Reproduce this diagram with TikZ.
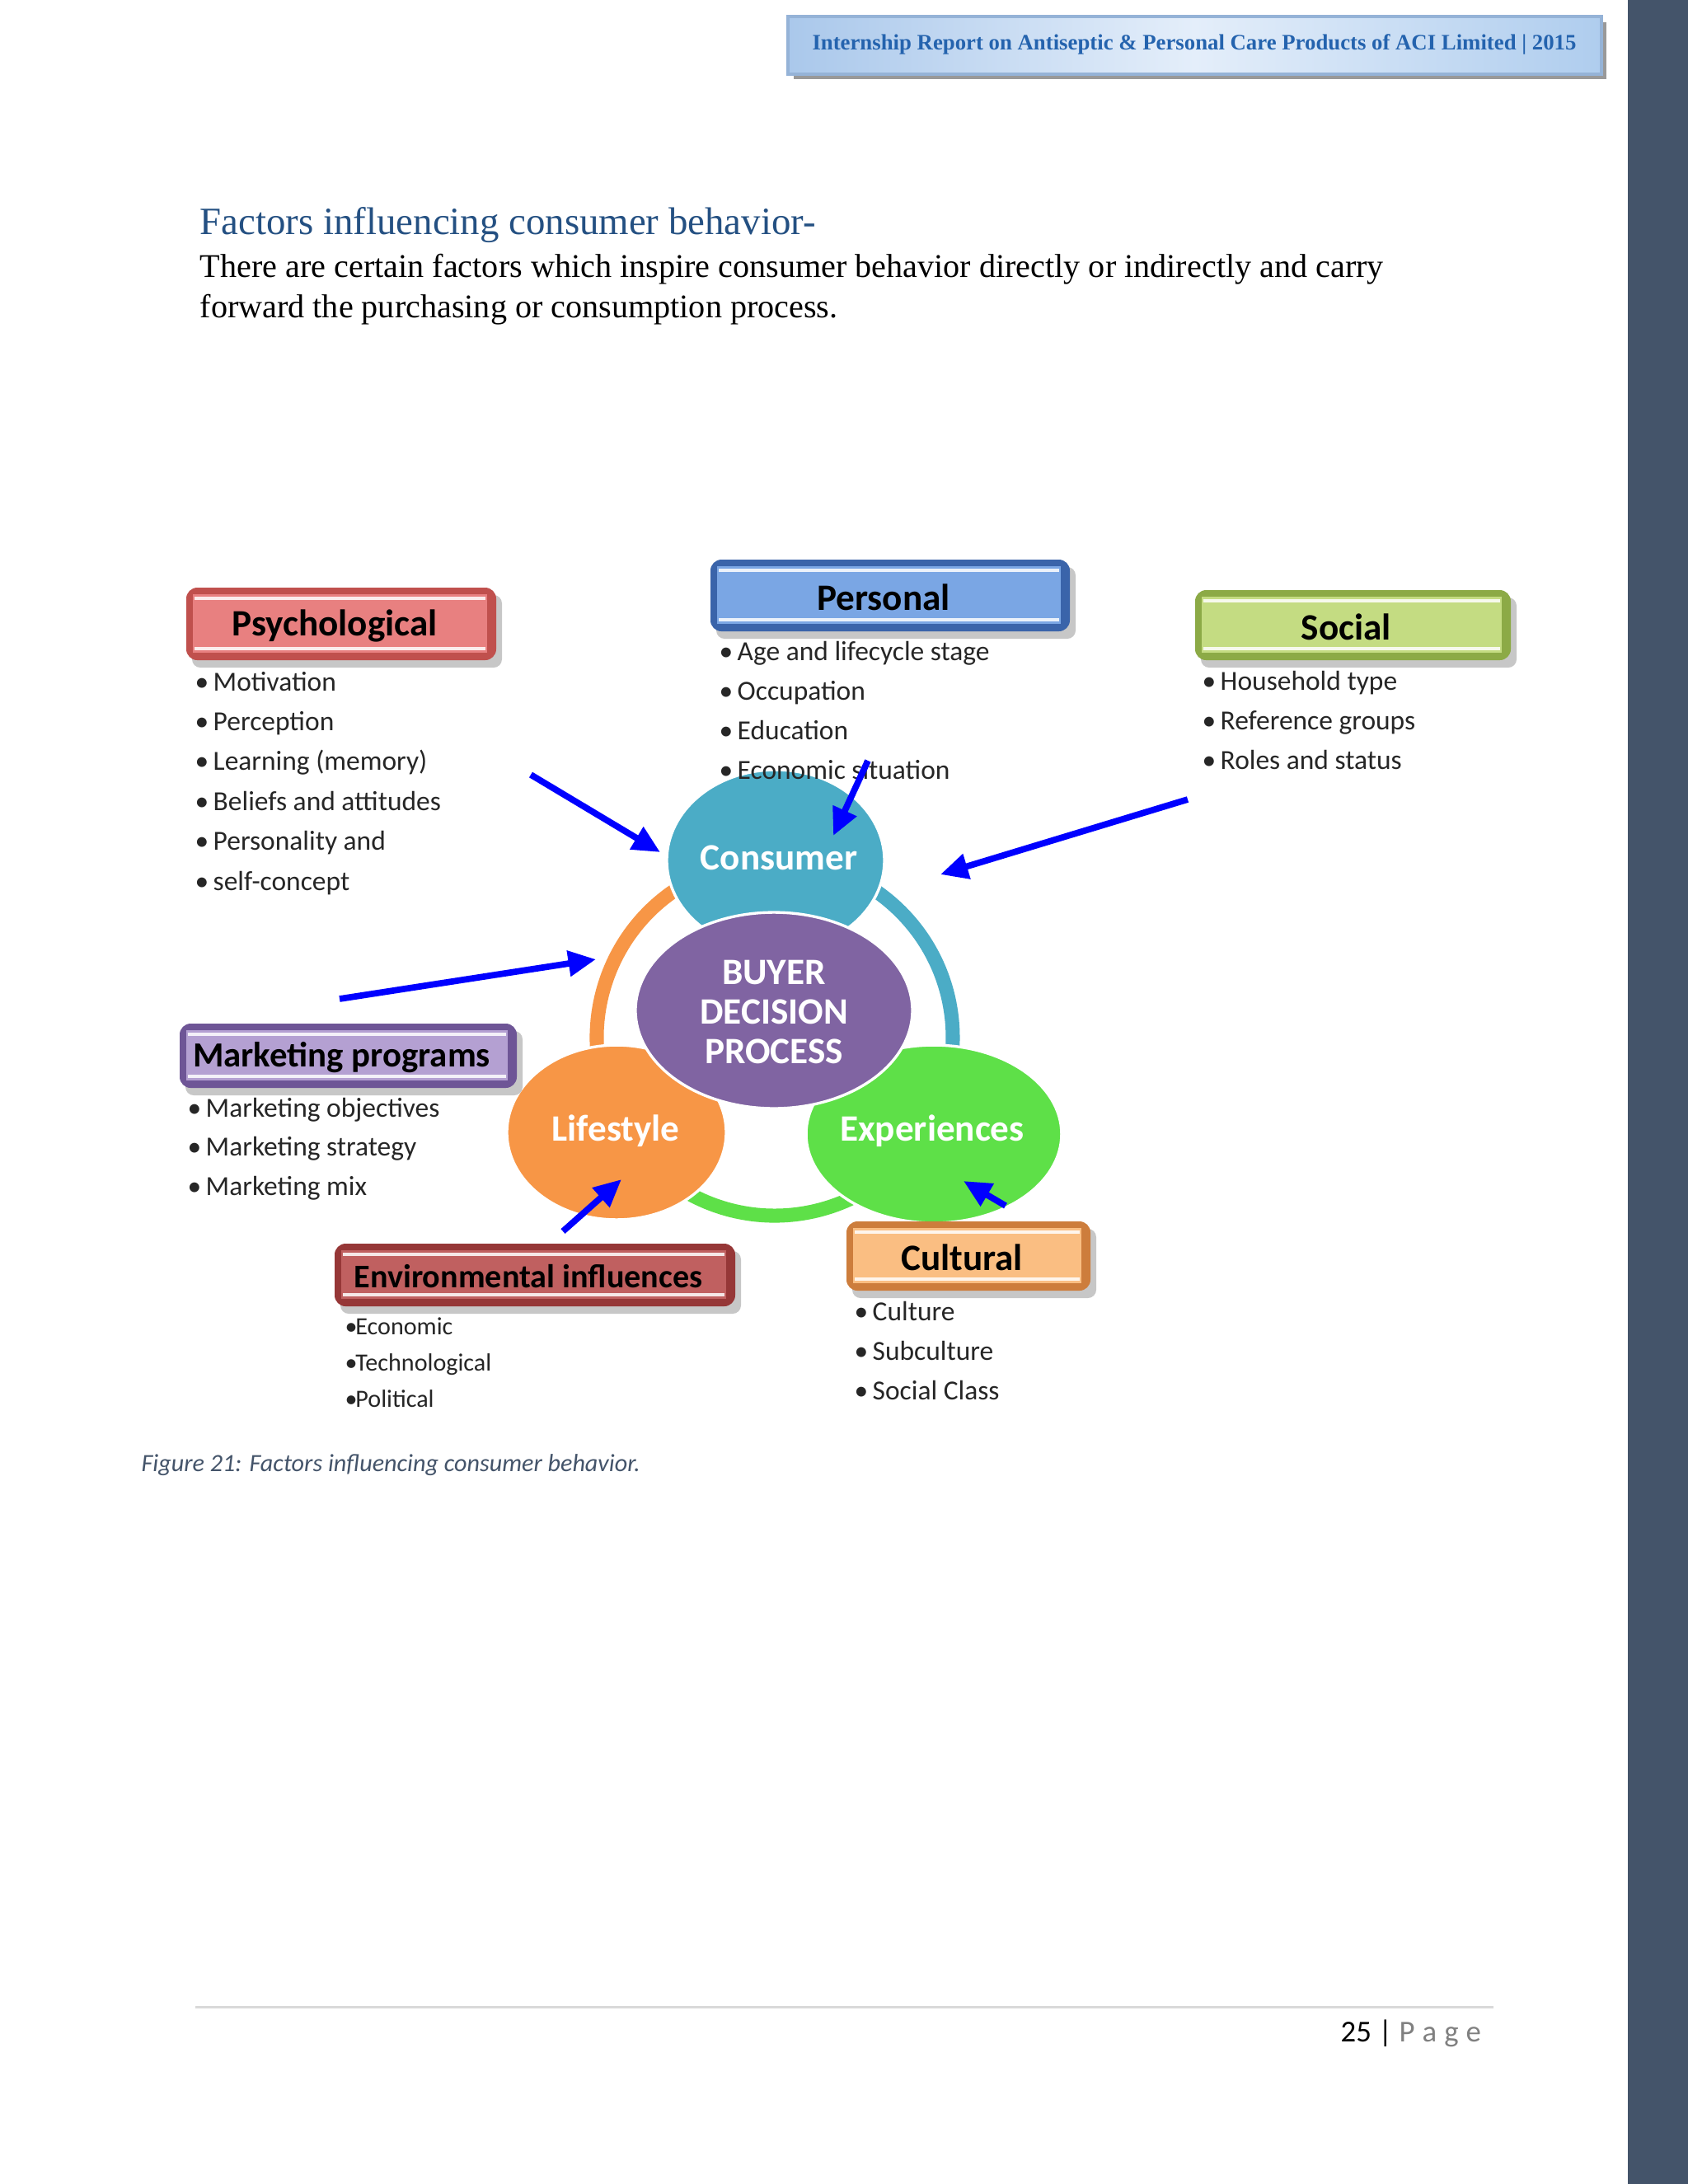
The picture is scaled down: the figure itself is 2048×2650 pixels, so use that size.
\documentclass[tikz,border=0pt]{standalone}
\usepackage{fontspec}
\setmainfont{Liberation Serif}
\newfontfamily\calfont{Carlito}
\usetikzlibrary{arrows.meta,shapes.geometric}
\definecolor{sidebar}{RGB}{68,84,106}
\definecolor{hdrtxt}{RGB}{36,99,174}
\definecolor{hdrborder}{RGB}{149,179,215}
\definecolor{titleblue}{RGB}{36,80,130}
\definecolor{captxt}{RGB}{68,84,106}
\definecolor{psychD}{RGB}{192,80,77}
\definecolor{psychL}{RGB}{232,128,128}
\definecolor{persD}{RGB}{58,100,170}
\definecolor{persL}{RGB}{122,166,228}
\definecolor{socD}{RGB}{140,170,70}
\definecolor{socL}{RGB}{196,220,130}
\definecolor{markD}{RGB}{110,85,150}
\definecolor{markL}{RGB}{180,160,210}
\definecolor{envD}{RGB}{150,55,55}
\definecolor{envL}{RGB}{192,96,96}
\definecolor{cultD}{RGB}{205,125,60}
\definecolor{cultL}{RGB}{250,190,130}
\definecolor{consC}{RGB}{75,172,198}
\definecolor{bdpC}{RGB}{128,100,162}
\definecolor{lifeC}{RGB}{247,150,70}
\definecolor{expC}{RGB}{94,224,72}
\definecolor{arrblue}{RGB}{0,0,255}
\tikzset{
  boxtitle/.style={font=\calfont\bfseries\fontsize{13.5}{16}\selectfont, text=black, inner sep=0},
  itemtxt/.style={font=\calfont\fontsize{10}{12}\selectfont, text=black!85, inner sep=0},
  circtxt/.style={font=\calfont\bfseries\fontsize{13.5}{14.3}\selectfont, text=white, align=center},
  blob/.style={ellipse, draw=white, line width=1pt, inner sep=0},
  ring/.style={line width=5.1pt},
  bluearrow/.style={draw=arrblue, line width=2.3pt, -{Triangle[length=10pt,width=9pt]}},
}
\newcommand\bevelbox[8]{%
  \fill[black, opacity=0.22, rounded corners=3pt] (#2+7,#3+9) rectangle (#4+7,#5+9);
  \fill[#6D, rounded corners=4pt] (#2,#3) rectangle (#4,#5);
  \fill[#6L] (#2+8,#3+8) rectangle (#4-11,#5-9);
  \draw[white, opacity=0.85, line width=1pt] (#2+10,#3+13) -- (#4-13,#3+13);
  \draw[white, opacity=0.85, line width=1pt] (#2+10,#5-14) -- (#4-13,#5-14);
  \node[boxtitle, #8] (#1) at ({(#2+#4)/2-8},{(#3+#5)/2+2}) {#7};
}
\newcommand\bulletlist[7]{%
  \foreach \t [count=\i from 0] in {#6}{
    \node[itemtxt, #7, anchor=base west] (#1\i) at (#2,{#3+\i*#4}) {\makebox[#5][l]{\textbullet}\t};
  }%
}
\begin{document}
\begin{tikzpicture}[x=0.29883pt, y=-0.29883pt]
\useasboundingbox (0,0) rectangle (2048,2650);
\fill[white] (0,0) rectangle (2048,2650);
\fill[sidebar] (1975,0) rectangle (2048,2650);

% header
\fill[black!40] (963,27) rectangle (1949,96);
\shade[left color={rgb,255:red,170;green,200;blue,235}, right color={rgb,255:red,175;green,205;blue,238}, middle color={rgb,255:red,228;green,238;blue,250}] (956,20) rectangle (1943,90);
\draw[hdrborder, line width=1pt] (956,20) rectangle (1943,90);
\node[font=\bfseries\fontsize{8}{9.6}\selectfont, text=hdrtxt, anchor=base, inner sep=0] (hdr) at (1449,60) {Internship Report on Antiseptic \& Personal Care Products of ACI Limited | 2015};

% title and body
\node[font=\fontsize{14}{16.8}\selectfont, text=titleblue, anchor=base west, inner sep=0] (title) at (242,284) {Factors influencing consumer behavior-};
\node[font=\fontsize{12}{14.4}\selectfont, anchor=base west, inner sep=0] (body1) at (242,336) {There are certain factors which inspire consumer behavior directly or indirectly and carry};
\node[font=\fontsize{12}{14.4}\selectfont, anchor=base west, inner sep=0] (body2) at (242,385) {forward the purchasing or consumption process.};

% ring
\draw[ring, lifeC] (940,1259) ++(150:216) arc[start angle=150, end angle=270, radius=216];
\draw[ring, consC] (940,1259) ++(-90:216) arc[start angle=-90, end angle=30, radius=216];
\draw[ring, expC] (940,1259) ++(30:216) arc[start angle=30, end angle=150, radius=216];

% circles
\node[blob, fill=consC, minimum width=78.9pt, minimum height=65.7pt] (cons) at (941,1044) {};
\node[circtxt] (constxt) at (945,1041) {Consumer};
\node[blob, fill=lifeC, minimum width=79.5pt, minimum height=63.3pt] (life) at (748,1374) {};
\node[circtxt] (lifetxt) at (747,1372) {Lifestyle};
\node[blob, fill=expC, minimum width=92.6pt, minimum height=64.5pt] (exp) at (1133,1376) {};
\node[circtxt] (exptxt) at (1131,1372) {Experiences};
\node[blob, fill=bdpC, minimum width=100.4pt, minimum height=71.1pt] (bdp) at (939,1226) {};
\node[circtxt] (bdptxt) at (939,1228) {BUYER\\DECISION\\PROCESS};

% boxes
\bevelbox{psych}{226}{713}{602}{801}{psych}{Psychological}{}
\bevelbox{pers}{862}{679}{1298}{766}{pers}{Personal}{}
\bevelbox{soc}{1450}{716}{1833}{801}{soc}{Social}{}
\bevelbox{mark}{218}{1242}{627}{1320}{mark}{Marketing programs}{font=\calfont\bfseries\fontsize{12.8}{15}\selectfont}
\bevelbox{env}{406}{1509}{892}{1585}{env}{Environmental influences}{font=\calfont\bfseries\fontsize{12}{14}\selectfont}
\bevelbox{cult}{1027}{1482}{1323}{1566}{cult}{Cultural}{}

% bullet lists
\bulletlist{psy}{236}{838}{48.4}{6.6pt}{Motivation,Perception,Learning (memory),Beliefs and attitudes,Personality and,self-concept}{}
\bulletlist{per}{872}{801}{48.2}{6.6pt}{Age and lifecycle stage,Occupation,Education,Economic situation}{}
\bulletlist{so}{1458}{837}{48.2}{6.6pt}{Household type,Reference groups,Roles and status}{}
\bulletlist{mk}{227}{1355}{47.6}{6.6pt}{Marketing objectives,Marketing strategy,Marketing mix}{}
\bulletlist{en}{418}{1619}{44}{3.8pt}{Economic,Technological,Political}{font=\calfont\fontsize{9}{11}\selectfont}
\bulletlist{cu}{1036}{1602}{48.2}{6.6pt}{Culture,Subculture,Social Class}{}

% arrows
\coordinate (a1s) at (644,940);  \coordinate (a1e) at (801,1034);
\coordinate (a2s) at (1053,923); \coordinate (a2e) at (1011,1014);
\coordinate (a3s) at (1441,970); \coordinate (a3e) at (1141,1061);
\coordinate (a4s) at (412,1212); \coordinate (a4e) at (723,1164);
\coordinate (a5s) at (683,1494); \coordinate (a5e) at (754,1431);
\coordinate (a6s) at (1220,1463);\coordinate (a6e) at (1169,1433);
\draw[bluearrow] (a1s) -- (a1e);
\draw[bluearrow] (a2s) -- (a2e);
\draw[bluearrow] (a3s) -- (a3e);
\draw[bluearrow] (a4s) -- (a4e);
\draw[bluearrow] (a5s) -- (a5e);
\draw[bluearrow] (a6s) -- (a6e);

% caption
\node[font=\calfont\itshape\fontsize{9}{11}\selectfont, text=captxt, anchor=base west, inner sep=0] (cap) at (171,1785) {Figure 21: Factors influencing consumer behavior.};

% footer
\coordinate (fl) at (237,2435); \coordinate (fr) at (1812,2435);
\draw[black!15, line width=0.9pt] (fl) -- (fr);
\node[font=\calfont\fontsize{11}{13}\selectfont, anchor=base west, inner sep=0] (pg) at (1626,2477) {25 | \textcolor{black!50}{P\hspace{2.7pt}a\hspace{2.7pt}g\hspace{2.7pt}e}};
\end{tikzpicture}
\end{document}
